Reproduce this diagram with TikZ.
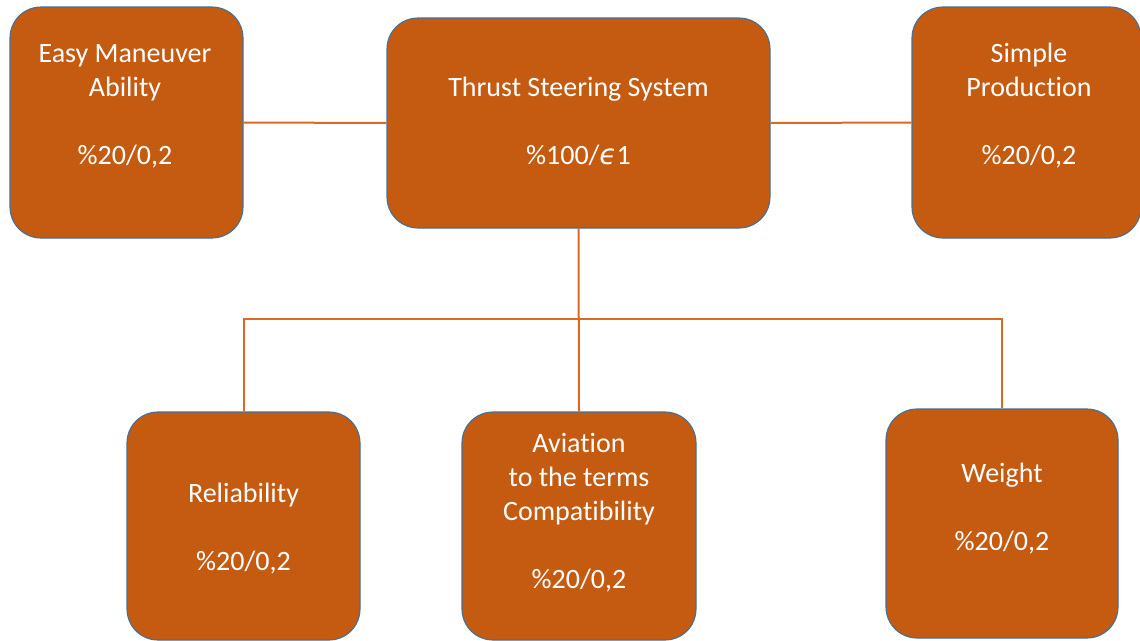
\documentclass[tikz,border=0pt]{standalone}
\usepackage{fontspec}
\setmainfont{Carlito}[Ligatures=NoCommon]
\newfontfamily\epsfont{DejaVu Sans}
\definecolor{boxfill}{HTML}{C55A11}
\definecolor{boxline}{HTML}{41719C}
\definecolor{conn}{HTML}{DA6A22}
\begin{document}
\begin{tikzpicture}[x=1pt,y=-1pt,
  box/.style={rectangle,rounded corners=31pt,fill=boxfill,draw=boxline,line width=1.1pt,inner sep=0pt},
  txt/.style={align=center,text=white,inner sep=0pt,font=\fontsize{28}{34}\selectfont},
  conline/.style={draw=conn,line width=2pt}]
\useasboundingbox (0,0) rectangle (1140,640);
\fill[white] (0,0) rectangle (1140,640);
% boxes
\node[box,minimum width=233pt,minimum height=231pt] (easy) at (126.5,122.5) {};
\node[box,minimum width=383pt,minimum height=210pt] (thrust) at (578.5,123) {};
\node[box,minimum width=229pt,minimum height=231pt] (simple) at (1026.5,122.5) {};
\node[box,minimum width=233pt,minimum height=228pt] (rel) at (243.5,526) {};
\node[box,minimum width=234pt,minimum height=228pt] (avi) at (579,526) {};
\node[box,minimum width=232pt,minimum height=229pt] (weight) at (1002,523.5) {};
% texts
\node[txt] (easyt) at (125,106.5) {Easy Maneuver\\Ability\\[34pt]\%20/0,2};
\node[txt] (thrustt) at (578.5,121.5) {Thrust Steering System\\[34pt]\%100/{\epsfont\itshape ϵ}1};
\node[txt] (simplet) at (1029,106) {Simple\\Production\\[34pt]\%20/0,2};
\node[txt] (relt) at (243.5,529) {Reliability\\[34pt]\%20/0,2};
\node[txt] (avit) at (579,512.5) {Aviation\\to the terms\\Compatibility\\[34pt]\%20/0,2};
\node[txt] (weightt) at (1002,509) {Weight\\[34pt]\%20/0,2};
% connectors
\coordinate (bus) at (579,319);
\draw[conline] (easy.east) -- (thrust.west);
\draw[conline] (thrust.east) -- (simple.west);
\draw[conline] (thrust.south) -- (avi.north);
\draw[conline] (rel.north) |- (bus) -| (weight.north);
\end{tikzpicture}
\end{document}
